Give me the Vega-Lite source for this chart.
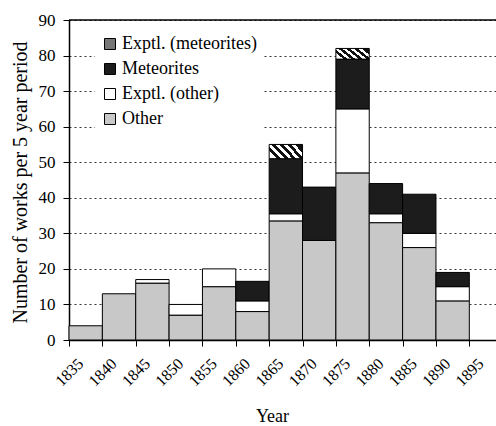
{
  "$schema": "https://vega.github.io/schema/vega-lite/v6.json",
  "autosize": "none",
  "width": 427,
  "height": 320,
  "padding": {"left": 69, "top": 20, "right": 0, "bottom": 86},
  "background": "white",
  "config": {
    "font": "Liberation Serif",
    "view": {"stroke": null},
    "axis": {"labelFont": "Liberation Serif", "titleFont": "Liberation Serif", "labelColor": "black", "titleColor": "black", "domainColor": "black", "tickColor": "black", "titleFontWeight": "normal"},
    "legend": {"labelFont": "Liberation Serif"}
  },
  "datasets": {
    "works": [
      {"start": 1835, "end": 1840, "type": "Other", "k": 1, "n": 4},
      {"start": 1840, "end": 1845, "type": "Other", "k": 1, "n": 13},
      {"start": 1845, "end": 1850, "type": "Other", "k": 1, "n": 16},
      {"start": 1845, "end": 1850, "type": "Exptl. (other)", "k": 2, "n": 1},
      {"start": 1850, "end": 1855, "type": "Other", "k": 1, "n": 7},
      {"start": 1850, "end": 1855, "type": "Exptl. (other)", "k": 2, "n": 3},
      {"start": 1855, "end": 1860, "type": "Other", "k": 1, "n": 15},
      {"start": 1855, "end": 1860, "type": "Exptl. (other)", "k": 2, "n": 5},
      {"start": 1860, "end": 1865, "type": "Other", "k": 1, "n": 8},
      {"start": 1860, "end": 1865, "type": "Exptl. (other)", "k": 2, "n": 3},
      {"start": 1860, "end": 1865, "type": "Meteorites", "k": 3, "n": 5.5},
      {"start": 1865, "end": 1870, "type": "Other", "k": 1, "n": 33.5},
      {"start": 1865, "end": 1870, "type": "Exptl. (other)", "k": 2, "n": 2},
      {"start": 1865, "end": 1870, "type": "Meteorites", "k": 3, "n": 15.5},
      {"start": 1865, "end": 1870, "type": "Exptl. (meteorites)", "k": 4, "n": 4},
      {"start": 1870, "end": 1875, "type": "Other", "k": 1, "n": 28},
      {"start": 1870, "end": 1875, "type": "Meteorites", "k": 3, "n": 15},
      {"start": 1875, "end": 1880, "type": "Other", "k": 1, "n": 47},
      {"start": 1875, "end": 1880, "type": "Exptl. (other)", "k": 2, "n": 18},
      {"start": 1875, "end": 1880, "type": "Meteorites", "k": 3, "n": 14},
      {"start": 1875, "end": 1880, "type": "Exptl. (meteorites)", "k": 4, "n": 3},
      {"start": 1880, "end": 1885, "type": "Other", "k": 1, "n": 33},
      {"start": 1880, "end": 1885, "type": "Exptl. (other)", "k": 2, "n": 2.5},
      {"start": 1880, "end": 1885, "type": "Meteorites", "k": 3, "n": 8.5},
      {"start": 1885, "end": 1890, "type": "Other", "k": 1, "n": 26},
      {"start": 1885, "end": 1890, "type": "Exptl. (other)", "k": 2, "n": 4},
      {"start": 1885, "end": 1890, "type": "Meteorites", "k": 3, "n": 11},
      {"start": 1890, "end": 1895, "type": "Other", "k": 1, "n": 11},
      {"start": 1890, "end": 1895, "type": "Exptl. (other)", "k": 2, "n": 4},
      {"start": 1890, "end": 1895, "type": "Meteorites", "k": 3, "n": 4}
    ],
    "top": [{"n0": 90}]
  },
  "encoding": {
    "y": {
      "field": "n0", "type": "quantitative",
      "scale": {"domain": [0, 90], "nice": false, "zero": true},
      "axis": {
        "values": [0, 10, 20, 30, 40, 50, 60, 70, 80, 90], "labelOverlap": false,
        "labelFontSize": 17, "tickSize": 6, "domainWidth": 1.5, "labelPadding": 8,
        "grid": true, "gridColor": "#333", "gridDash": [2, 3], "gridWidth": 1,
        "title": "Number of works per 5 year period", "titleFontSize": 20,
        "titleX": -43, "titleY": 162, "titleBaseline": "alphabetic", "titleAlign": "center", "titleAngle": -90
      }
    }
  },
  "layer": [
    {
      "data": {"name": "works"},
      "transform": [
        {"stack": "n", "groupby": ["start"], "sort": [{"field": "k", "order": "ascending"}], "as": ["n0", "n1"]}
      ],
      "mark": {"type": "bar", "stroke": "black", "strokeWidth": 1},
      "encoding": {
        "x": {
          "field": "start", "type": "quantitative",
          "scale": {"domain": [1835, 1899], "nice": false, "zero": false},
          "axis": {
            "values": [1835, 1840, 1845, 1850, 1855, 1860, 1865, 1870, 1875, 1880, 1885, 1890, 1895],
            "format": "d", "labelAngle": -45, "labelFontSize": 16, "tickSize": 6, "domainWidth": 1.5,
            "labelOverlap": false,
            "labelPadding": 26, "labelAlign": "center", "labelBaseline": "middle", "grid": false,
            "title": "Year", "titleFontSize": 18, "titleX": 203, "titleY": 81, "titleBaseline": "alphabetic"
          }
        },
        "x2": {"field": "end"},
        "y2": {"field": "n1"},
        "fill": {
          "condition": {
            "test": "datum.type === 'Exptl. (meteorites)'",
            "value": {"gradient": "linear", "x1": 0, "y1": 0.7, "x2": 1, "y2": 0.3, "stops": [
                {"offset": 0, "color": "white"}, {"offset": 0.1, "color": "white"}, {"offset": 0.1, "color": "#111"}, {"offset": 0.2, "color": "#111"},
                {"offset": 0.2, "color": "white"}, {"offset": 0.3, "color": "white"}, {"offset": 0.3, "color": "#111"}, {"offset": 0.4, "color": "#111"},
                {"offset": 0.4, "color": "white"}, {"offset": 0.5, "color": "white"}, {"offset": 0.5, "color": "#111"}, {"offset": 0.6, "color": "#111"},
                {"offset": 0.6, "color": "white"}, {"offset": 0.7, "color": "white"}, {"offset": 0.7, "color": "#111"}, {"offset": 0.8, "color": "#111"},
                {"offset": 0.8, "color": "white"}, {"offset": 0.9, "color": "white"}, {"offset": 0.9, "color": "#111"}, {"offset": 1, "color": "#111"}
            ]}
          },
          "field": "type", "type": "nominal",
          "scale": {
            "domain": ["Exptl. (meteorites)", "Meteorites", "Exptl. (other)", "Other"],
            "range": ["#777777", "#1c1c1c", "#ffffff", "#c8c8c8"]
          },
          "legend": {
            "title": null, "orient": "none", "legendX": 26, "legendY": 9,
            "fillColor": "white", "padding": 6, "symbolType": "square", "symbolSize": 121,
            "symbolStrokeColor": "black", "symbolStrokeWidth": 1, "labelFontSize": 18,
            "labelColor": "black", "rowPadding": 7, "labelOffset": 3
          }
        }
      }
    },
    {
      "data": {"name": "top"},
      "mark": {"type": "rule", "color": "black", "strokeWidth": 1.5},
      "encoding": {}
    }
  ]
}
